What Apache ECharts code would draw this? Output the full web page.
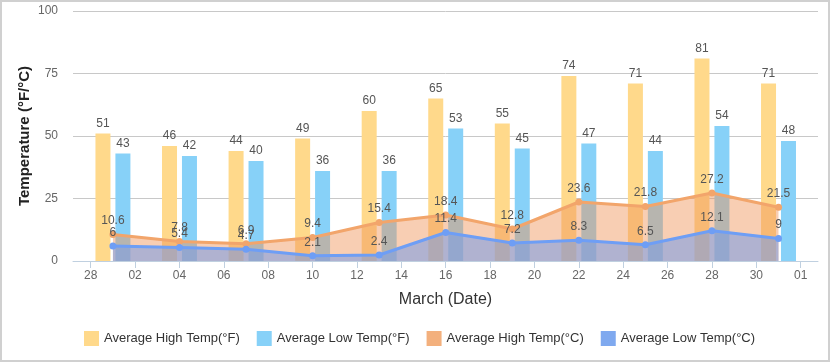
<!DOCTYPE html>
<html><head><meta charset="utf-8">
<script src="https://cdn.jsdelivr.net/npm/echarts@6/dist/echarts.min.js"></script>
<style>html,body{margin:0;padding:0;background:#fff}#c{width:830px;height:362px;box-sizing:border-box;border:2px solid #d0d0d0}</style>
</head><body><div id="c"></div>
<script>
const dates = ['2019-03-01','2019-03-04','2019-03-07','2019-03-10','2019-03-13','2019-03-16','2019-03-19','2019-03-22','2019-03-25','2019-03-28','2019-03-31'];
const highF = [51,46,44,49,60,65,55,74,71,81,71];
const lowF = [43,42,40,36,36,53,45,47,44,54,48];
const highC = [10.6,7.8,6.9,9.4,15.4,18.4,12.8,23.6,21.8,27.2,21.5];
const lowC = [6,5.4,4.7,2.1,2.4,11.4,7.2,8.3,6.5,12.1,9];
const tickDates = ['2019-02-28','2019-03-02','2019-03-04','2019-03-06','2019-03-08','2019-03-10','2019-03-12','2019-03-14','2019-03-16','2019-03-18','2019-03-20','2019-03-22','2019-03-24','2019-03-26','2019-03-28','2019-03-30','2019-04-01'];
const yTicks = [0,25,50,75,100];
const names = ['Average High Temp(°F)','Average Low Temp(°F)','Average High Temp(°C)','Average Low Temp(°C)'];

const DAY = 86400000;
const t = s => new Date(s + 'T00:00:00Z').getTime() / DAY;
const pairs = arr => dates.map((d,i)=>[t(d), arr[i]]);
const ticks = tickDates.map(t);
const font = 'Liberation Sans, Arial, sans-serif';
const lbl = {show:true, position:'top', color:'#555', fontSize:12, fontFamily:font, distance:4};
const legendColors = ['#FFD98B','#87D1F8','#F3B07D','#7FA9EF'];

const chart = echarts.init(document.getElementById('c'), null, {renderer:'canvas'});
chart.setOption({
  animation:false,
  color:legendColors,
  grid:{left:71, right:10, top:9, bottom:99},
  legend:{bottom:9, left:77, itemWidth:15, itemHeight:15, itemGap:17,
    icon:'rect', data:names.map((n,i)=>({name:n, itemStyle:{color:legendColors[i]}})),
    textStyle:{color:'#333', fontSize:13, fontFamily:font}},
  xAxis:{type:'value', min:ticks[0]-0.8, max:ticks[ticks.length-1]+0.78,
    name:'March (Date)', nameLocation:'middle', nameGap:31,
    nameTextStyle:{fontSize:16, color:'#333', fontFamily:font},
    axisLine:{show:true, onZero:false, lineStyle:{color:'#c0d0e0'}},
    axisTick:{show:true, customValues:ticks, length:7, lineStyle:{color:'#c0d0e0'}},
    axisLabel:{customValues:ticks, color:'#666', fontSize:12, fontFamily:font, margin:9,
      formatter:v=>{const d=new Date(Math.round(v*DAY));return String(d.getUTCDate()).padStart(2,'0');}},
    splitLine:{show:false}},
  yAxis:{type:'value', min:yTicks[0], max:yTicks[yTicks.length-1], interval:25,
    name:'Temperature (°F/°C)', nameLocation:'middle', nameGap:41, nameMoveOverlap:false,
    nameTextStyle:{fontSize:15, fontWeight:'bold', color:'#222', fontFamily:font},
    axisLine:{show:false}, axisTick:{show:false},
    axisLabel:{color:'#666', fontSize:12, fontFamily:font, margin:15},
    splitLine:{lineStyle:{color:'#c8c8c8'}}},
  series:[
    {name:names[0], type:'bar', data:pairs(highF), barWidth:15, barGap:'33%', label:lbl, itemStyle:{color:'#FFD98B'}},
    {name:names[1], type:'bar', data:pairs(lowF), barWidth:15, barGap:'33%', label:lbl, itemStyle:{color:'#87D1F8'}},
    {name:names[2], type:'line', data:pairs(highC), symbol:'circle', symbolSize:7, label:lbl,
      lineStyle:{color:'#F2A56B', width:3}, itemStyle:{color:'#F2A56B'},
      areaStyle:{color:'rgba(240,150,90,0.66)'}},
    {name:names[3], type:'line', data:pairs(lowC), symbol:'circle', symbolSize:7, label:lbl,
      lineStyle:{color:'#6E9EF5', width:3}, itemStyle:{color:'#6E9EF5'},
      areaStyle:{color:'rgba(122,158,228,0.82)'}}
  ]
});
</script></body></html>
